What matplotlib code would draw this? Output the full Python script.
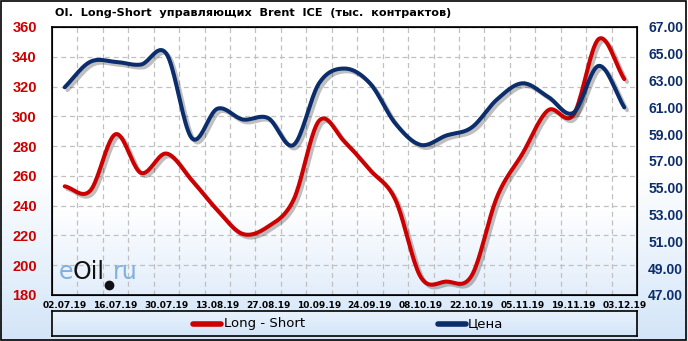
import numpy as np
import matplotlib
matplotlib.use("Agg")
import matplotlib.pyplot as plt
import matplotlib.patheffects as pe
from matplotlib.colors import LinearSegmentedColormap

# данные
dates = ["02.07.19", "09.07.19", "16.07.19", "23.07.19", "30.07.19", "06.08.19",
         "13.08.19", "20.08.19", "27.08.19", "03.09.19", "10.09.19", "17.09.19",
         "24.09.19", "01.10.19", "08.10.19", "15.10.19", "22.10.19", "29.10.19",
         "05.11.19", "12.11.19", "19.11.19", "26.11.19", "03.12.19"]
long_short = [253, 250, 288, 262, 275, 257, 237, 221, 226, 244, 297, 283,
              264, 244, 192, 189, 193, 246, 275, 304, 301, 352, 325]
price = [62.5, 64.4, 64.4, 64.2, 65.0, 58.7, 60.9, 60.1, 60.2, 58.2, 62.8, 63.9,
         62.8, 59.8, 58.2, 58.9, 59.5, 61.6, 62.8, 61.8, 60.6, 64.1, 61.0]

RED = "#cc0000"
BLUE = "#0b2d6b"
W, H = 688, 341


def smooth(y, n=20):
    # сглаживание как в Excel (Catmull-Rom)
    y = np.asarray(y, float)
    p = np.concatenate([[2 * y[0] - y[1]], y, [2 * y[-1] - y[-2]]])
    xs, ys = [], []
    for i in range(len(y) - 1):
        p0, p1, p2, p3 = p[i], p[i + 1], p[i + 2], p[i + 3]
        t = np.linspace(0, 1, n, endpoint=False)
        yy = 0.5 * ((2 * p1) + (-p0 + p2) * t + (2 * p0 - 5 * p1 + 4 * p2 - p3) * t ** 2
                    + (-p0 + 3 * p1 - 3 * p2 + p3) * t ** 3)
        xs.append(i + t)
        ys.append(yy)
    xs.append([len(y) - 1])
    ys.append([y[-1]])
    return np.concatenate(xs), np.concatenate(ys)


def px(x, y):
    return x / W, 1 - y / H


fig = plt.figure(figsize=(6.88, 3.41), dpi=100)

# фон с градиентом
bg = fig.add_axes([0, 0, 1, 1], zorder=-10)
cmap_bg = LinearSegmentedColormap.from_list("bg", ["#ffffff", "#ffffff", "#d3e5f8"])
bg.imshow(np.linspace(0, 1, 256).reshape(-1, 1), aspect="auto", cmap=cmap_bg,
          extent=[0, 1, 0, 1], origin="upper")
bg.set_xlim(0, 1)
bg.set_ylim(0, 1)
bg.add_patch(plt.Rectangle((0.002, 0.004), 0.995, 0.992, fill=False, lw=1.2, ec="black"))
bg.axis("off")

pos = [52 / W, 46 / H, 585 / W, 268 / H]
pbg = fig.add_axes(pos, zorder=-5)
cmap_ax = LinearSegmentedColormap.from_list("ax", ["#ffffff", "#ffffff", "#ffffff", "#e3eefb"])
pbg.imshow(np.linspace(0, 1, 256).reshape(-1, 1), aspect="auto", cmap=cmap_ax,
           extent=[0, 1, 0, 1], origin="upper")
pbg.axis("off")

ax = fig.add_axes(pos)
ax.patch.set_visible(False)
x = np.arange(len(dates))

ax.set_xlim(-0.5, len(dates) - 0.5)
ax.set_ylim(180, 360)
ax.set_yticks(np.arange(180, 361, 20))
ax.set_xticks(x[::2])
ax.set_xticklabels(dates[::2], fontsize=6.5, fontweight="bold")
ax.set_xticks(np.arange(0.5, len(dates) - 0.5, 1), minor=True)
ax.tick_params(axis="x", which="both", length=0, pad=4)
ax.tick_params(axis="y", length=0, pad=11, labelcolor=RED)
for lb in ax.get_yticklabels():
    lb.set_fontweight("bold")
    lb.set_fontfamily("Liberation Sans")
    lb.set_fontsize(10.5)
ax.grid(True, axis="y", color="#c0c0c0", ls=(0, (4, 3)), lw=0.9)
ax.grid(True, axis="x", which="minor", color="#c0c0c0", ls=(0, (4, 3)), lw=0.9)
for s in ax.spines.values():
    s.set_linewidth(1.2)

ax2 = ax.twinx()
ax2.set_ylim(47, 67)
ax2.set_yticks(np.arange(47, 67.1, 2))
ax2.set_yticklabels([f"{v:.2f}" for v in np.arange(47, 67.1, 2)])
ax2.tick_params(axis="y", length=0, pad=8, labelcolor=BLUE)
for lb in ax2.get_yticklabels():
    lb.set_fontweight("bold")
    lb.set_fontfamily("Liberation Sans")
    lb.set_fontsize(10)

shadow = [pe.SimpleLineShadow(offset=(2, -2), alpha=0.25, shadow_color="black"), pe.Normal()]
sx, sy = smooth(long_short)
ax.plot(sx, sy, color=RED, lw=2.9, solid_capstyle="round", path_effects=shadow, zorder=4)
sx, sy = smooth(price)
ax2.plot(sx, sy, color=BLUE, lw=2.9, solid_capstyle="round", path_effects=shadow, zorder=3)

# водяной знак
fig.text(*px(59, 279), "e", fontsize=17, color="#7fb0de", va="baseline", ha="left")
fig.text(*px(73, 279), "Oil", fontsize=17, color="#111111", va="baseline", ha="left")
fig.text(*px(113, 279), "ru", fontsize=17, color="#7fb0de", va="baseline", ha="left")
fig.add_artist(plt.Line2D([109 / W], [1 - 285 / H], marker="o", ms=6, color="#111111"))

fig.text(*px(55, 13), "OI.  Long-Short  управляющих  Brent  ICE  (тыс.  контрактов)",
         fontsize=8.1, fontweight="bold", va="center", ha="left")

# легенда
lg = fig.add_axes([52 / W, 5 / H, 585 / W, 25 / H], zorder=5)
lg.imshow(np.linspace(0, 1, 64).reshape(-1, 1), aspect="auto",
          cmap=LinearSegmentedColormap.from_list("lg", ["#e9f2fc", "#d3e5f8"]),
          extent=[0, 1, 0, 1], origin="upper")
lg.set_xlim(0, 1)
lg.set_ylim(0, 1)
lg.set_xticks([])
lg.set_yticks([])
for s in lg.spines.values():
    s.set_linewidth(1.2)
lg.plot([(193 - 52) / 585, (221 - 52) / 585], [0.5, 0.5], color=RED, lw=4, solid_capstyle="round")
lg.text((224 - 52) / 585, 0.48, "Long - Short", fontsize=9.5, va="center")
lg.plot([(438 - 52) / 585, (466 - 52) / 585], [0.5, 0.5], color=BLUE, lw=4, solid_capstyle="round")
lg.text((468 - 52) / 585, 0.48, "Цена", fontsize=9.5, va="center")

fig.savefig("out.png", dpi=100)
